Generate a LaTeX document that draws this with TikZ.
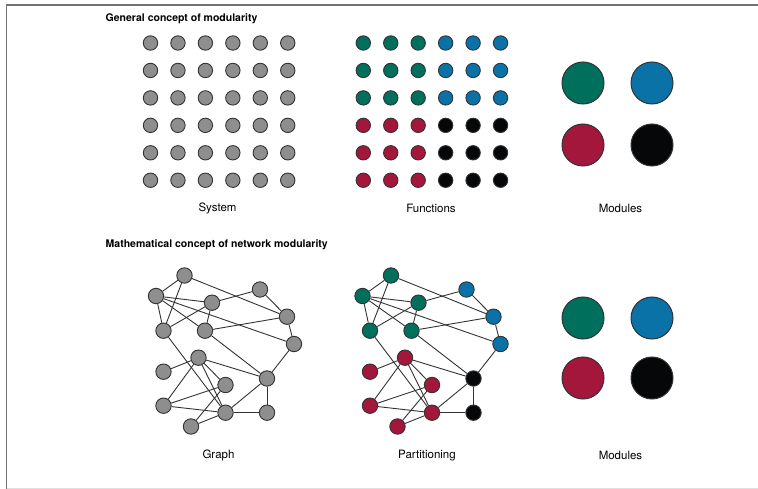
\documentclass[tikz,border=0pt]{standalone}
\usepackage{fontspec}
\setmainfont{TeX Gyre Heros}
\definecolor{modgreen}{HTML}{006F5C}
\definecolor{modblue}{HTML}{0A72A6}
\definecolor{modred}{HTML}{A3173C}
\definecolor{modblack}{HTML}{050709}
\definecolor{modgray}{HTML}{8E8E8E}
\definecolor{rim}{HTML}{333333}

% one network: #1 name prefix, #2 horizontal offset,
% #3..#6 fill colours of the four groups
\newcommand\drawnet[6]{%
  \begin{scope}[xshift=#2]
    \node[gnode,fill=#3] (#1A) at (184.5,275.5) {};
    \node[gnode,fill=#3] (#1B) at (156,296) {};
    \node[gnode,fill=#4] (#1C) at (260,289.5) {};
    \node[gnode,fill=#3] (#1D) at (212,302.7) {};
    \node[gnode,fill=#3] (#1E) at (163.5,330.7) {};
    \node[gnode,fill=#3] (#1F) at (205,330.7) {};
    \node[gnode,fill=#4] (#1G) at (287,316.7) {};
    \node[gnode,fill=#4] (#1H) at (294,344) {};
    \node[gnode,fill=#5] (#1I) at (198.5,357.7) {};
    \node[gnode,fill=#5] (#1J) at (163.5,371.7) {};
    \node[gnode,fill=#6] (#1K) at (267,378.5) {};
    \node[gnode,fill=#5] (#1L) at (225.5,385) {};
    \node[gnode,fill=#5] (#1M) at (163.5,405.7) {};
    \node[gnode,fill=#5] (#1N) at (225.5,412.7) {};
    \node[gnode,fill=#6] (#1O) at (267,412.7) {};
    \node[gnode,fill=#5] (#1P) at (191,426.5) {};
    \foreach \u/\v in {A/B,A/E,A/G,B/D,B/E,B/F,B/H,C/D,C/G,D/E,D/F,F/G,F/K,
                       E/N,G/H,H/K,I/J,I/K,I/M,I/L,I/N,M/L,M/N,P/L,P/N,K/N,K/O,N/O}
      \draw[link] (#1\u) -- (#1\v);
  \end{scope}}

\begin{document}
\begin{tikzpicture}[x=1pt,y=-1pt,
  dot/.style={circle,draw=rim,line width=0.9pt,inner sep=0pt,minimum size=14.4pt},
  gnode/.style={circle,draw=rim,line width=0.9pt,inner sep=0pt,minimum size=15.4pt},
  bigdot/.style={circle,draw=rim,line width=1pt,inner sep=0pt,minimum size=42pt},
  link/.style={draw=rim,line width=0.9pt},
  lab/.style={font=\fontsize{11.5}{13}\selectfont,inner sep=0pt},
  heading/.style={font=\fontsize{10.5}{12}\selectfont\bfseries,anchor=west,inner sep=0pt}]
\useasboundingbox (0,0) rectangle (758,489);

% frame
\draw[draw=gray!90!black,line width=1.5pt] (6.5,489) -- (6.5,5) -- (758,5);
\draw[draw=black!12,line width=1pt] (6.5,488) -- (758,488);

% headings
\node[heading] (h1) at (105.5,19) {General concept of modularity};
\node[heading] (h2) at (105.5,245) {Mathematical concept of network modularity};

% system grid
\foreach \i in {0,...,5}
  \foreach \j in {0,...,5}
    \node[dot,fill=modgray] (s\i\j) at ({150.5+27.45*\i},{43+27.45*\j}) {};

% functions grid
\foreach \i in {0,1,2}
  \foreach \j in {0,1,2} {
    \node[dot,fill=modgreen] (fa\i\j) at ({363.3+27.45*\i},{43+27.45*\j}) {};
    \node[dot,fill=modblue]  (fb\i\j) at ({445.65+27.45*\i},{43+27.45*\j}) {};
    \node[dot,fill=modred]   (fc\i\j) at ({363.3+27.45*\i},{125.35+27.45*\j}) {};
    \node[dot,fill=modblack] (fd\i\j) at ({445.65+27.45*\i},{125.35+27.45*\j}) {};
  }

% modules (top)
\node[bigdot,fill=modgreen] (m1) at (583,83) {};
\node[bigdot,fill=modblue]  (m2) at (652,83) {};
\node[bigdot,fill=modred]   (m3) at (583,145) {};
\node[bigdot,fill=modblack] (m4) at (652,145) {};

% modules (bottom)
\node[bigdot,fill=modgreen] (n1) at (583,318) {};
\node[bigdot,fill=modblue]  (n2) at (652,318) {};
\node[bigdot,fill=modred]   (n3) at (583,378) {};
\node[bigdot,fill=modblack] (n4) at (652,378) {};

% networks
\drawnet{g}{0pt}{modgray}{modgray}{modgray}{modgray}
\drawnet{p}{206.5pt}{modgreen}{modblue}{modred}{modblack}

% captions
\node[lab] (c1) at (217.5,208.5) {System};
\node[lab] (c2) at (431,208.5) {Functions};
\node[lab] (c3) at (620.5,208.5) {Modules};
\node[lab] (c4) at (218.5,455.5) {Graph};
\node[lab] (c5) at (427,455.5) {Partitioning};
\node[lab] (c6) at (620.5,455.5) {Modules};
\end{tikzpicture}
\end{document}
